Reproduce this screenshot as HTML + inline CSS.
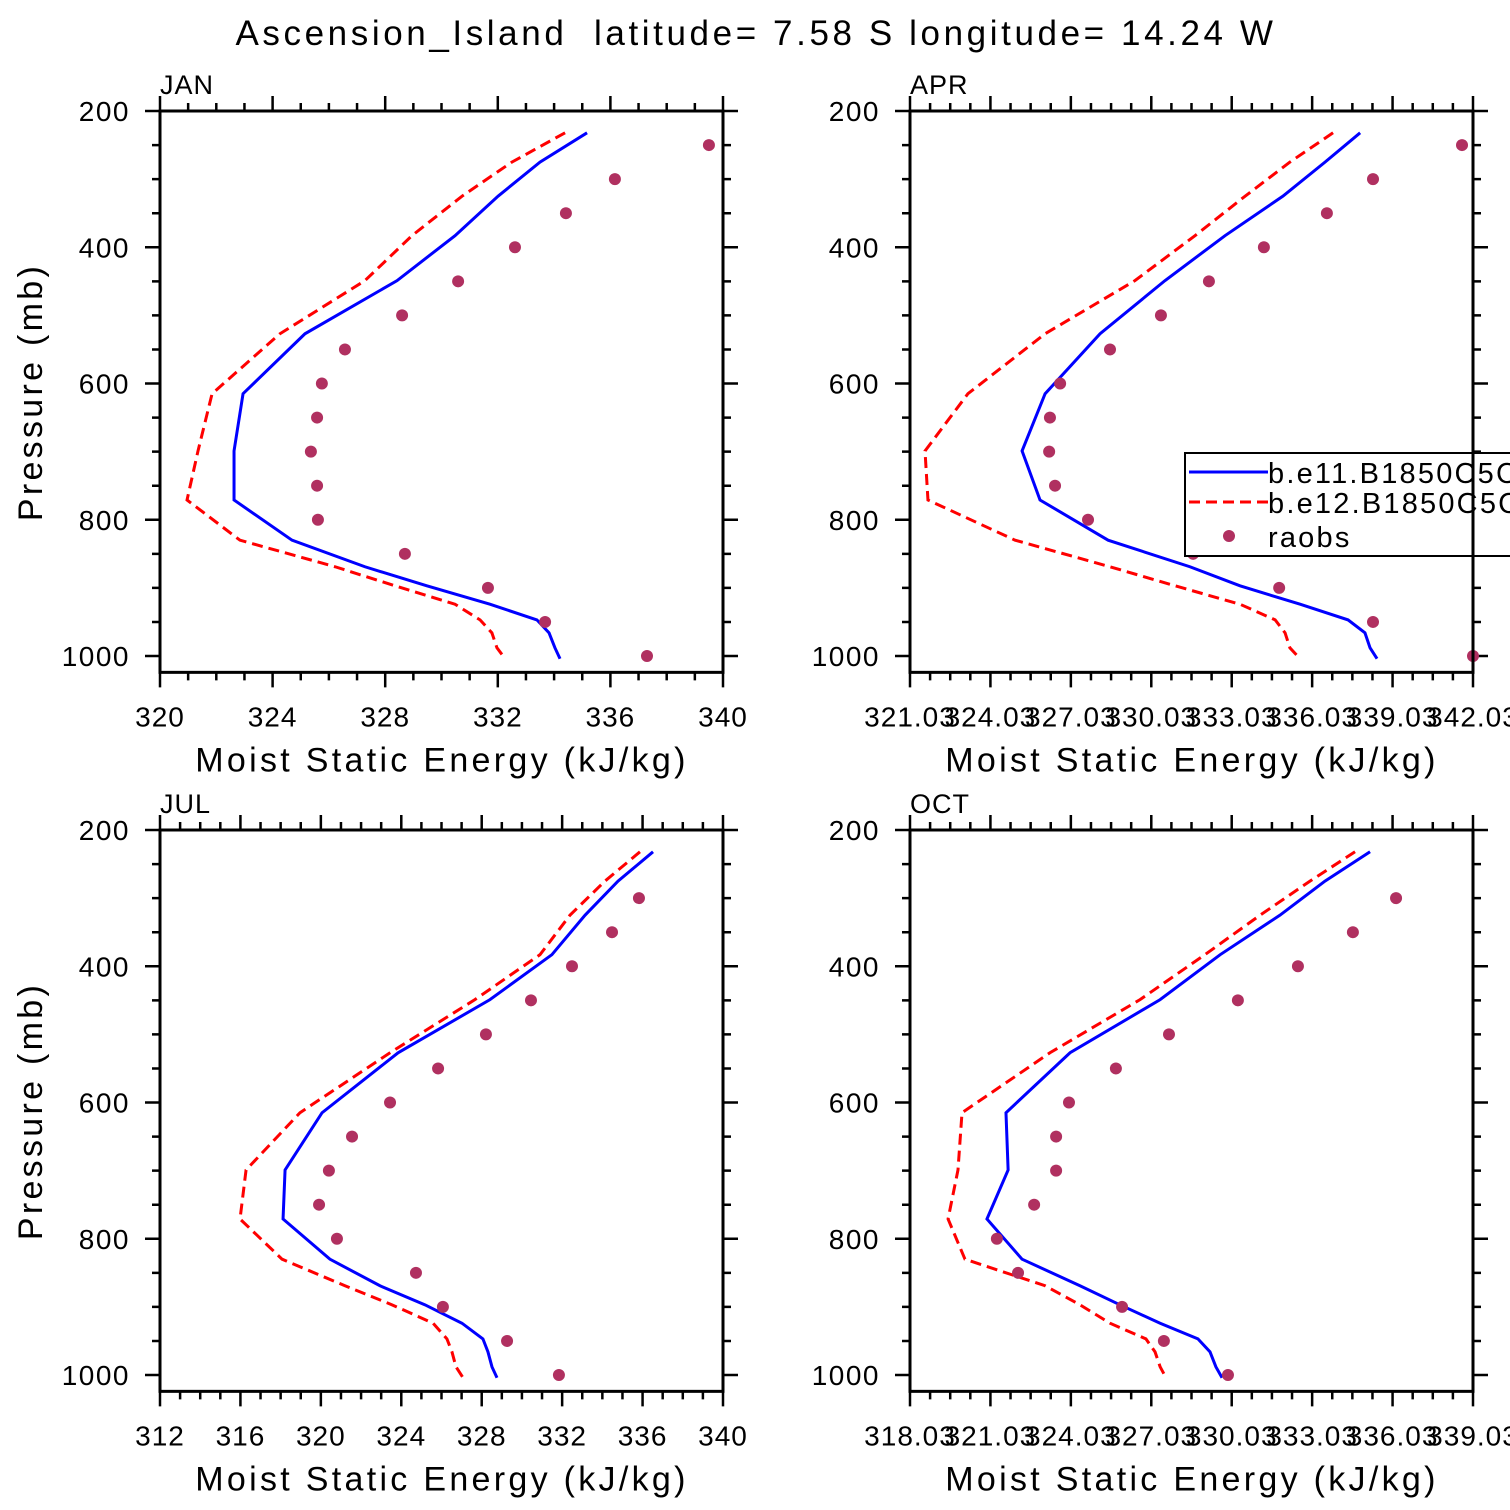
<!DOCTYPE html>
<html><head><meta charset="utf-8"><style>
html,body{margin:0;padding:0;background:#fff}
svg{display:block;font-family:"Liberation Sans",sans-serif}
text{white-space:pre}
</style></head><body>
<svg id="chart" width="1510" height="1510" viewBox="0 0 1510 1510" xmlns="http://www.w3.org/2000/svg">
<text x="756" y="45" font-size="35" text-anchor="middle" letter-spacing="3.6">Ascension_Island  latitude= 7.58 S longitude= 14.24 W</text>
</svg>
<script>
const levels=[232,275,325,383,449,527,615,699,771,830,869,897,924,947,966,988,1004];
const obsLevels=[250,300,350,400,450,500,550,600,650,700,750,800,850,900,950,1000];
const janBlue=[335.17,333.50,332.01,330.48,328.42,325.15,322.95,322.63,322.63,324.69,327.28,329.48,331.72,333.39,333.82,334.03,334.21];
const janRed=[334.39,332.50,330.73,328.95,327.28,324.26,321.85,321.35,320.96,322.84,326.22,328.35,330.48,331.37,331.79,331.97,332.26];
const janObs=[339.50,336.16,334.42,332.61,330.59,328.60,326.57,325.75,325.58,325.36,325.58,325.61,328.70,331.65,333.68,337.30];
const aprBlue=[337.82,336.51,334.94,332.78,330.54,328.12,326.07,325.21,325.88,328.42,331.47,333.34,335.58,337.37,338.00,338.19,338.45];
const aprRed=[336.81,335.20,333.53,331.66,329.42,326.07,323.19,321.59,321.70,324.95,328.49,330.92,333.34,334.65,335.02,335.20,335.58];
const aprObs=[341.62,338.30,336.58,334.23,332.18,330.39,328.49,326.63,326.25,326.22,326.44,327.67,331.59,334.80,338.30,342.03];
const julBlue=[336.52,334.78,333.14,331.49,328.41,323.84,320.06,318.22,318.12,320.45,322.94,325.18,327.02,328.06,328.31,328.51,328.76];
const julRed=[335.87,334.13,332.39,330.90,327.66,323.44,318.96,316.28,315.98,318.07,321.20,323.54,325.58,326.27,326.52,326.72,327.07];
const julObs=[null,335.82,334.48,332.49,330.45,328.21,325.83,323.44,321.55,320.40,319.91,320.80,324.73,326.07,329.26,331.84];
const octBlue=[335.19,333.51,331.83,329.60,327.36,324.00,321.61,321.69,320.90,322.21,324.37,325.86,327.36,328.77,329.22,329.44,329.67];
const octRed=[334.63,332.95,331.09,329.03,326.61,323.25,319.97,319.82,319.45,320.08,323.07,324.37,325.49,326.83,327.17,327.36,327.58];
const octObs=[null,336.16,334.55,332.50,330.26,327.69,325.71,323.96,323.48,323.48,322.66,321.27,322.06,325.94,327.50,329.89];
const panelNames=["JAN","APR","JUL","OCT"];
const xMins=[320,321.03,312,318.03];
const xMaxs=[340,342.03,340,339.03];
const xSteps=[4,3,4,3];
const yTicks=[200,400,600,800,1000];

const NS="http://www.w3.org/2000/svg";
const svg=document.getElementById('chart');
function mk(tag,attrs,parent){const e=document.createElementNS(NS,tag);for(const k in attrs)e.setAttribute(k,attrs[k]);(parent||svg).appendChild(e);return e;}
const W=563, PTOP=200, PBOT=1024, PXPER=0.68125;
const series=[[janBlue,janRed,janObs],[aprBlue,aprRed,aprObs],[julBlue,julRed,julObs],[octBlue,octRed,octObs]];
for(let i=0;i<4;i++){
  const ox=160+(i%2)*750, oy=111+Math.floor(i/2)*719;
  const H=(PBOT-PTOP)*PXPER;
  const xs=v=>ox+(v-xMins[i])/(xMaxs[i]-xMins[i])*W;
  const ys=p=>oy+(p-PTOP)*PXPER;
  const g=mk('g',{});
  
  
  const lab=mk('text',{x:ox,y:oy-17,'font-size':27,'letter-spacing':'1'},g);lab.textContent=panelNames[i];
  
  
  let d='';
  const nMaj=Math.round((xMaxs[i]-xMins[i])/xSteps[i]);
  for(let k=0;k<=nMaj*4;k++){
    const v=xMins[i]+k*xSteps[i]/4, x=xs(v), L=(k%4===0)?15:8;
    d+=`M${x},${oy}V${oy-L}M${x},${oy+H}V${oy+H+L}`;
  }
  for(let p=200;p<=1000;p+=50){
    const y=ys(p), L=(p%200===0)?15:8;
    d+=`M${ox},${y}H${ox-L}M${ox+W},${y}H${ox+W+L}`;
  }
  const tk=mk('path',{d:d,stroke:'#000','stroke-width':2.5,fill:'none'},g);
  
  
  for(let k=0;k<=nMaj;k++){
    const v=xMins[i]+k*xSteps[i];
    const t=mk('text',{x:xs(v),y:oy+H+54,'font-size':28,'text-anchor':'middle','letter-spacing':'1'},g);
    t.textContent=(xSteps[i]===3)?v.toFixed(2):String(Math.round(v));
    
    
  }
  yTicks.forEach(p=>{
    const t=mk('text',{x:ox-30,y:ys(p)+10,'font-size':28,'text-anchor':'end','letter-spacing':'1.5'},g);t.textContent=p;
    
    
  });
  const xt=mk('text',{x:ox+282,y:oy+H+99,'font-size':34,'text-anchor':'middle','letter-spacing':'3.3'},g);
  xt.textContent='Moist Static Energy (kJ/kg)';
  
  
  if(i%2===0){
    const yt=mk('text',{x:0,y:0,'font-size':34,'text-anchor':'middle','letter-spacing':'3.3',transform:`translate(42,${oy+281}) rotate(-90)`},g);
    yt.textContent='Pressure (mb)';
    
    
  }
  const [b,r,o]=series[i];
  const bl=mk('polyline',{points:levels.map((p,k)=>xs(b[k])+','+ys(p)).join(' '),fill:'none',stroke:'#0000ff','stroke-width':3},g);
  
  
  const rl=mk('polyline',{points:levels.map((p,k)=>xs(r[k])+','+ys(p)).join(' '),fill:'none',stroke:'#ff0000','stroke-width':3,'stroke-dasharray':'11,6'},g);
  
  
  obsLevels.forEach((p,k)=>{
    if(o[k]==null)return;
    const c=mk('circle',{cx:xs(o[k]),cy:ys(p),r:6,fill:'#b03060'},g);
    
    
  });
  const fr=mk('rect',{x:ox,y:oy,width:W,height:H,fill:'none',stroke:'#000','stroke-width':3},g);
  
  
}
const lg=mk('g',{});


mk('rect',{x:1185,y:453,width:340,height:103,fill:'#fff',stroke:'#000','stroke-width':2},lg);
const l1=mk('line',{x1:1189,y1:472,x2:1268,y2:472,stroke:'#0000ff','stroke-width':3},lg);


const l2=mk('line',{x1:1189,y1:502,x2:1268,y2:502,stroke:'#ff0000','stroke-width':3,'stroke-dasharray':'11,6'},lg);


const l3=mk('circle',{cx:1229,cy:536,r:6,fill:'#b03060'},lg);


[['b.e11.B1850C5CN',483],['b.e12.B1850C5CN',513],['raobs',547]].forEach(([s,y])=>{
  const t=mk('text',{x:1268,y:y,'font-size':29,'letter-spacing':'2.2'},lg);t.textContent=s;
  
  
});
mk('line',{x1:1473,y1:453,x2:1473,y2:556,stroke:'#000','stroke-width':3},lg);
</script>
</body></html>
